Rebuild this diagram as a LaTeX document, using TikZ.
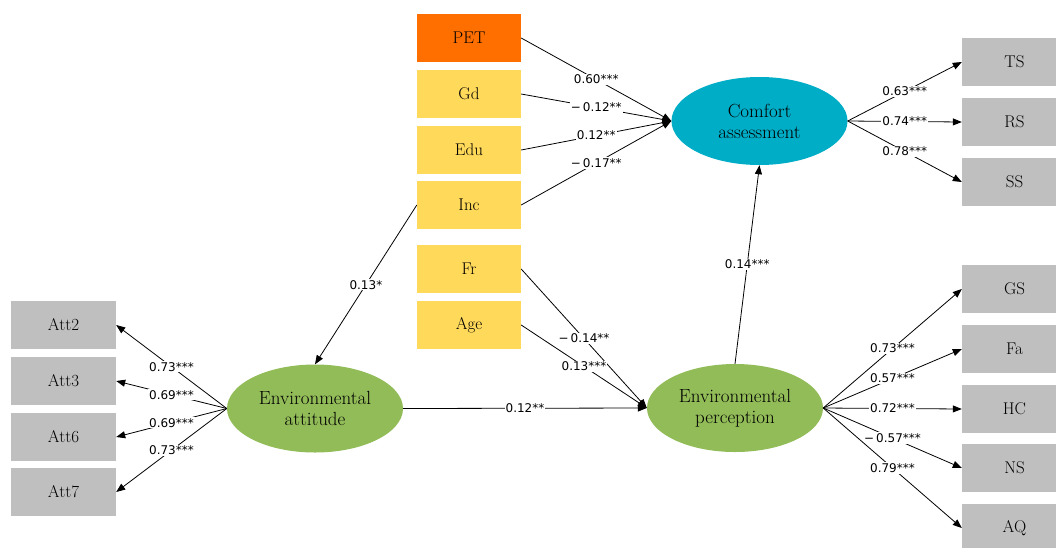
\documentclass[tikz,border=0pt]{standalone}
\usepackage{fontspec}
\newfontfamily\numfont{DejaVu Sans}
\usetikzlibrary{arrows.meta,shapes.geometric}
\definecolor{petorange}{HTML}{FF6F00}
\definecolor{covyellow}{HTML}{FFD95A}
\definecolor{indgray}{HTML}{BFBFBF}
\definecolor{cateal}{HTML}{00ADC6}
\definecolor{envgreen}{HTML}{92BC58}
\tikzset{
  box/.style={rectangle, minimum width=104pt, minimum height=48pt, inner sep=0pt, font=\fontsize{17}{19}\selectfont},
  graybox/.style={box, fill=indgray, minimum width=105pt},
  yelbox/.style={box, fill=covyellow},
  latent/.style={ellipse, minimum width=176pt, minimum height=88pt, inner sep=0pt, align=center, font=\fontsize{19}{21}\selectfont},
  arr/.style={-{Triangle[length=9pt,width=7pt]}, line width=0.8pt},
  lab/.style={fill=white, inner sep=1pt, font=\numfont\fontsize{12}{13}\selectfont, pos=0.5}
}
\begin{document}
\begin{tikzpicture}[x=1pt,y=-1pt]
\useasboundingbox (0,0) rectangle (1056,547);
\clip (0,0) rectangle (1056,547);
% covariates
\node[box, fill=petorange] (pet) at (469,38) {PET};
\node[yelbox] (gd) at (469,94) {Gd};
\node[yelbox] (edu) at (469,150) {Edu};
\node[yelbox] (inc) at (469,205) {Inc};
\node[yelbox] (fr) at (469,269) {Fr};
\node[yelbox] (age) at (469,325) {Age};
% left indicators
\node[graybox] (att2) at (63.5,325) {Att2};
\node[graybox] (att3) at (63.5,381) {Att3};
\node[graybox] (att6) at (63.5,437) {Att6};
\node[graybox] (att7) at (63.5,492) {Att7};
% right indicators
\node[graybox] (ts) at (1014.5,62) {TS};
\node[graybox] (rs) at (1014.5,122) {RS};
\node[graybox] (ss) at (1014.5,182) {SS};
\node[graybox] (gs) at (1014.5,289) {GS};
\node[graybox] (fa) at (1014.5,349) {Fa};
\node[graybox] (hc) at (1014.5,409) {HC};
\node[graybox] (ns) at (1014.5,468) {NS};
\node[graybox] (aq) at (1014.5,528) {AQ};
% latent variables
\node[latent, fill=cateal] (ca) at (759.5,121) {Comfort\\assessment};
\node[latent, fill=envgreen] (ea) at (315,408.5) {Environmental\\attitude};
\node[latent, fill=envgreen] (ep) at (735,408) {Environmental\\perception};
% paths to comfort
\draw[arr] (pet.east) -- node[lab]{0.60***} (ca.west);
\draw[arr] (gd.east) -- node[lab]{−\,0.12**} (ca.west);
\draw[arr] (edu.east) -- node[lab]{0.12**} (ca.west);
\draw[arr] (inc.east) -- node[lab]{−\,0.17**} (ca.west);
% Inc to attitude
\draw[arr] (inc.west) -- node[lab]{0.13*} (ea.north);
% to perception
\draw[arr] (fr.east) -- node[lab]{−\,0.14**} (ep.west);
\draw[arr] (age.east) -- node[lab]{0.13***} (ep.west);
\draw[arr] (ea.east) -- node[lab]{0.12**} (ep.west);
\draw[arr] (ep.north) -- node[lab]{0.14***} (ca.south);
% comfort indicators
\draw[arr] (ca.east) -- node[lab]{0.63***} (ts.west);
\draw[arr] (ca.east) -- node[lab]{0.74***} (rs.west);
\draw[arr] (ca.east) -- node[lab]{0.78***} (ss.west);
% attitude indicators
\draw[arr] (ea.west) -- node[lab]{0.73***} (att2.east);
\draw[arr] (ea.west) -- node[lab]{0.69***} (att3.east);
\draw[arr] (ea.west) -- node[lab]{0.69***} (att6.east);
\draw[arr] (ea.west) -- node[lab]{0.73***} (att7.east);
% perception indicators
\draw[arr] (ep.east) -- node[lab]{0.73***} (gs.west);
\draw[arr] (ep.east) -- node[lab]{0.57***} (fa.west);
\draw[arr] (ep.east) -- node[lab]{0.72***} (hc.west);
\draw[arr] (ep.east) -- node[lab]{−\,0.57***} (ns.west);
\draw[arr] (ep.east) -- node[lab]{0.79***} (aq.west);
\end{tikzpicture}
\end{document}
